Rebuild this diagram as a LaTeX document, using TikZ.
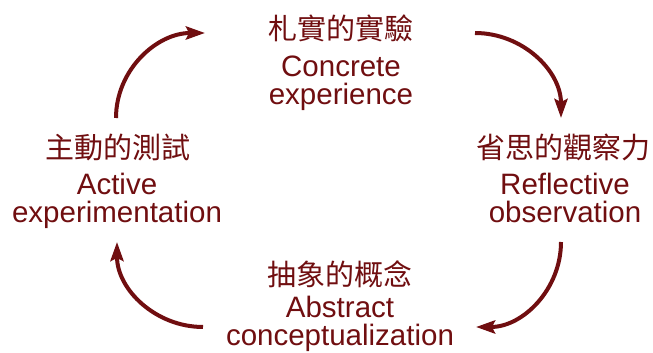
\documentclass[tikz,border=0pt]{standalone}
\usepackage{fontspec}
\setmainfont{Liberation Sans}
\newfontfamily\cjk{Noto Sans CJK TC}
\usetikzlibrary{arrows.meta,positioning}
\tikzset{zh/.style={font=\cjk\fontsize{29}{29}\selectfont,text=kolb,inner sep=0pt},
  en/.style={font=\fontsize{29.5}{28}\selectfont,text=kolb,align=center,anchor=base,inner sep=0pt},
  cyc/.style={draw=kolb,line width=4pt,-{Stealth[length=19pt,width=13pt,inset=3pt]}}}

\begin{document}
\begin{tikzpicture}[x=1pt,y=1pt]
            \definecolor{kolb}{RGB}{112,14,16}
            \useasboundingbox (0,0) rectangle (653,353);
            % the four stages
            \node [zh] (ceZh) at (341,325) {札實的實驗};
            \node [en] (ce) at (341,248) {Concrete\\experience};
            \node [zh] (roZh) at (563,206) {省思的觀察力};
            \node [en] (ro) at (565,130) {Reflective\\observation};
            \node [zh] (acZh) at (340,79) {抽象的概念};
            \node [en] (ac) at (340,7) {Abstract\\conceptualization};
            \node [zh] (aeZh) at (118,206) {主動的測試};
            \node [en] (ae) at (117,130) {Active\\experimentation};
            % arrow ends
            \coordinate (tl1) at (116,235);
            \coordinate (tl2) at (205,320);
            \coordinate (tr1) at (475,320);
            \coordinate (tr2) at (561,235);
            \coordinate (br1) at (561,111);
            \coordinate (br2) at (476,26);
            \coordinate (bl1) at (203,26);
            \coordinate (bl2) at (117,111);
            \foreach \a/\b/\o/\i in {tl1/tl2/90/180,tr1/tr2/0/90,br1/br2/-90/0,bl1/bl2/180/-90} {
                \draw [cyc] (\a) to [out=\o,in=\i] (\b);
            }
        \end{tikzpicture}
\end{document}
